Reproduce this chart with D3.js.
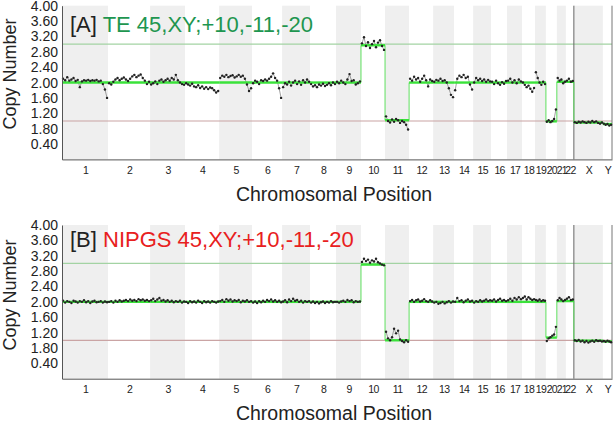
<!DOCTYPE html>
<html>
<head>
<meta charset="utf-8">
<script src="https://cdn.jsdelivr.net/npm/d3@7"></script>
<style>
  body { margin: 0; background: #fff; }
  svg { display: block; font-family: "Liberation Sans", Arial, sans-serif; }
</style>
</head>
<body>
<div id="chart"></div>
<script>
// chromosome names and display lengths (Mb, as laid out in the figure)
const chromNames = ['1','2','3','4','5','6','7','8','9','10','11','12','13','14','15','16','17','18','19','20','21','22','X','Y']
const chromSizes = [249, 227, 189, 184, 178, 162, 151, 140, 135, 130, 130, 130, 113, 103, 97, 86, 81, 70, 59, 59, 49, 43, 157, 49]

const yTickValues = [0.4, 0.8, 1.2, 1.6, 2.0, 2.4, 2.8, 3.2, 3.6, 4.0]
const yTickLabels = ['0.40', '1.80', '1.20', '1.60', '2.00', '2.40', '2.80', '3.20', '3.60', '4.00']

// segment calls per chromosome
const segA = [2, 2, 2, 2, 2, 2, 2, 2, 2, 2.97, 1.02, 2, 2, 2, 2, 2, 2, 2, 2, 0.99, 2.02, 2.02, 0.96, 0.92]
const segB = [2, 2, 2, 2, 2, 2, 2, 2, 2, 2.97, 1.0, 2, 2, 2, 2, 2, 2, 2, 2, 1.07, 2.02, 2.02, 0.99, 0.97]

// bin copy numbers per chromosome, panel A (TE)
const binsA = [
  [2.1, 2.06, 2.14, 2.05, 2.08, 2.12, 2.04, 2.07, 1.88, 2.03, 2.06, 2.05, 2.07, 2.04, 2.06, 2.05, 2.07, 2.03, 2.05, 1.96, 1.82, 1.6],
  [1.98, 1.95, 2.02, 2.08, 2.12, 2.06, 2.1, 2.13, 2.08, 2.04, 2.1, 2.16, 2.2, 2.14, 2.18, 2.21, 2.12, 2.05, 1.96, 2.02],
  [1.95, 1.98, 2.03, 1.96, 2.05, 2.08, 2.02, 2.06, 2.1, 2.05, 2.12, 2.08, 2.2, 2.06, 2.0, 1.96, 1.94],
  [1.98, 1.95, 1.92, 1.97, 1.9, 1.88, 1.93, 1.86, 1.9, 1.84, 1.88, 1.83, 1.87, 1.85, 1.8, 1.74, 1.78],
  [2.12, 2.18, 2.15, 2.2, 2.14, 2.17, 2.19, 2.13, 2.16, 2.2, 2.15, 2.18, 2.1, 1.95, 1.78, 1.85],
  [1.98, 2.05, 2.02, 1.96, 2.06, 2.04, 2.08, 2.05, 2.1, 2.15, 2.24, 2.12, 2.05, 1.85, 1.6],
  [1.88, 1.98, 1.95, 2.02, 1.92, 2.0, 2.05, 1.96, 2.03, 1.94, 2.06, 2.0, 2.08, 2.02],
  [1.96, 1.9, 1.93, 1.88, 1.95, 1.92, 1.97, 1.91, 1.94, 1.98, 1.93, 2.0, 1.96],
  [2.02, 1.98, 2.05, 2.0, 1.96, 2.08, 2.22, 2.04, 2.06, 1.95, 1.98, 2.03],
  [3.02, 3.18, 2.95, 3.05, 2.9, 3.0, 3.08, 2.92, 3.04, 3.1, 2.95, 2.85],
  [1.12, 1.0, 0.96, 1.04, 0.98, 1.05, 1.02, 0.95, 1.0, 0.97, 0.9, 0.78],
  [2.1, 2.05, 2.15, 2.08, 2.12, 2.02, 2.1, 2.18, 2.06, 1.9, 2.08, 2.04],
  [2.02, 2.07, 2.05, 2.1, 2.04, 2.06, 2.0, 1.85, 1.68, 1.62],
  [1.8, 2.1, 2.18, 2.14, 2.2, 2.12, 2.15, 1.95, 1.82],
  [2.0, 2.12, 2.06, 2.1, 2.04, 2.08, 2.02, 2.07, 2.03],
  [2.02, 1.96, 2.05, 1.98, 1.94, 2.01, 1.97, 2.04],
  [2.05, 2.1, 2.0, 2.06, 1.98, 2.08, 2.03],
  [2.0, 1.94, 1.88, 1.92, 1.84, 1.76, 1.86],
  [2.27, 2.12, 2.0, 1.94, 2.02, 1.96],
  [0.98, 1.02, 0.97, 1.0, 1.05, 1.3],
  [2.12, 2.05, 2.08, 1.98, 2.02],
  [2.05, 2.1, 2.02, 2.04],
  [0.97, 0.95, 0.98, 0.96, 0.99, 0.97, 0.95, 0.98, 0.96, 1.0, 0.97, 0.99, 0.95, 0.93, 0.96],
  [0.93, 0.9, 0.92, 0.88, 0.9]
]

// bin copy numbers per chromosome, panel B (NIPGS)
const binsB = [
  [2.03, 1.98, 2.02, 2.0, 1.97, 2.03, 2.01, 1.98, 2.02, 2.0, 2.04, 1.99, 2.02, 1.97, 2.01, 2.03, 1.99, 2.0, 2.02, 1.98, 2.01, 1.99],
  [2.0, 2.02, 1.98, 2.03, 2.0, 2.04, 2.01, 2.03, 2.05, 2.02, 2.06, 2.03, 2.05, 2.02, 2.07, 2.04, 2.06, 2.03, 2.05, 2.02],
  [2.04, 2.08, 2.02, 2.06, 2.1, 2.03, 2.05, 2.01, 2.04, 2.0, 2.03, 1.99, 2.02, 2.0, 2.03, 1.98, 2.01],
  [2.0, 1.97, 2.02, 1.99, 2.01, 1.98, 2.03, 2.0, 1.97, 2.02, 1.99, 2.01, 1.98, 2.02, 2.0, 1.98, 2.01],
  [2.02, 2.05, 2.0, 2.07, 2.03, 2.06, 2.01, 2.04, 2.02, 2.05, 1.99, 2.03, 2.01, 2.04, 2.0, 2.02],
  [1.98, 2.01, 1.97, 2.02, 1.99, 2.03, 2.0, 2.05, 2.02, 2.06, 2.01, 2.04, 2.0, 2.03, 1.99],
  [2.01, 2.04, 1.99, 2.06, 2.02, 2.08, 2.03, 2.05, 2.0, 2.03, 1.98, 2.02, 2.0, 2.02],
  [1.98, 2.01, 1.97, 2.0, 1.96, 1.99, 2.01, 1.97, 2.0, 1.98, 2.02, 1.99, 2.0],
  [2.0, 1.98, 2.01, 2.03, 2.0, 2.05, 2.02, 2.04, 1.99, 2.02, 2.0, 2.01],
  [3.04, 3.12, 3.06, 3.1, 3.02, 3.08, 3.05, 3.12, 3.03, 3.0, 2.97, 2.95],
  [1.22, 1.05, 1.0, 1.08, 1.3, 1.18, 1.25, 1.02, 0.98, 0.95, 1.0, 0.96],
  [2.02, 2.05, 2.0, 2.04, 2.06, 2.01, 2.03, 2.07, 2.02, 2.0, 2.04, 2.01],
  [1.98, 2.0, 1.95, 1.97, 2.0, 1.96, 1.99, 2.02, 1.98, 2.01],
  [2.0, 2.1, 2.02, 2.04, 1.99, 2.03, 2.06, 2.01, 2.03],
  [1.98, 2.02, 2.0, 2.04, 2.01, 2.03, 2.06, 2.02, 2.04],
  [2.03, 2.06, 2.01, 2.05, 2.08, 2.03, 2.05, 2.02],
  [2.04, 2.08, 2.03, 2.1, 2.06, 2.12, 2.07],
  [2.1, 2.14, 2.06, 2.12, 2.08, 2.05, 2.07],
  [2.05, 2.03, 2.06, 2.02, 2.04, 2.03],
  [0.98, 1.05, 1.08, 1.12, 1.15, 1.35],
  [2.04, 2.1, 2.06, 2.02, 2.05],
  [2.08, 2.12, 2.05, 2.06],
  [1.0, 0.98, 1.01, 0.97, 0.99, 0.95, 0.98, 0.94, 0.97, 0.99, 0.96, 1.0, 0.98, 0.99, 0.97],
  [0.98, 0.96, 0.99, 0.97, 0.95]
]

const width = 615
const height = 423
const left = 62
const right = 612

const svg = d3.select('#chart').append('svg')
  .attr('width', width)
  .attr('height', height)

// cumulative chromosome starts
const starts = []
let acc = 0
chromSizes.forEach(function (s) { starts.push(acc); acc += s })
const total = acc

const x = d3.scaleLinear().domain([0, total]).range([left, right])

function drawPanel (opts) {
  const y = d3.scaleLinear().domain([0, 4]).range([opts.bottom, opts.top])
  const g = svg.append('g')

  // alternating chromosome bands
  g.selectAll('.band')
    .data(chromSizes)
    .enter().append('rect')
    .attr('x', function (d, i) { return x(starts[i]) })
    .attr('y', y(4))
    .attr('width', function (d, i) { return x(starts[i] + d) - x(starts[i]) })
    .attr('height', y(0) - y(4))
    .attr('fill', function (d, i) { return i % 2 === 0 ? '#efefef' : '#ffffff' })

  // reference lines
  g.append('line')
    .attr('x1', left).attr('x2', right)
    .attr('y1', y(3)).attr('y2', y(3))
    .attr('stroke', '#a3d3a3').attr('stroke-width', 1.2)
  g.append('line')
    .attr('x1', left).attr('x2', right)
    .attr('y1', y(1)).attr('y2', y(1))
    .attr('stroke', '#caa4a4').attr('stroke-width', 1.2)

  // X / autosome divider and right border
  g.append('line')
    .attr('x1', x(starts[22])).attr('x2', x(starts[22]))
    .attr('y1', y(4)).attr('y2', y(0))
    .attr('stroke', '#666').attr('stroke-width', 1)
  g.append('line')
    .attr('x1', right).attr('x2', right)
    .attr('y1', y(4)).attr('y2', y(0))
    .attr('stroke', '#777').attr('stroke-width', 1)

  // bins
  const pts = []
  opts.bins.forEach(function (arr, c) {
    arr.forEach(function (v, i) {
      pts.push({ c: c, pos: starts[c] + (i + 0.5) / arr.length * chromSizes[c], v: v })
    })
  })
  const line = d3.line().x(function (d) { return x(d.pos) }).y(function (d) { return y(d.v) })
  g.selectAll('.trace')
    .data(d3.groups(pts, function (d) { return d.c }))
    .enter().append('path')
    .attr('d', function (d) { return line(d[1]) })
    .attr('fill', 'none')
    .attr('stroke', '#777')
    .attr('stroke-width', 0.7)

  // segment calls
  const seg = opts.seg
  g.selectAll('.seg-v')
    .data(seg.slice(1))
    .enter().append('line')
    .attr('x1', function (d, i) { return x(starts[i + 1]) })
    .attr('x2', function (d, i) { return x(starts[i + 1]) })
    .attr('y1', function (d, i) { return y(seg[i]) })
    .attr('y2', function (d) { return y(d) })
    .attr('stroke', '#5ee05e')
    .attr('stroke-width', 1)
  g.selectAll('.seg-h')
    .data(seg)
    .enter().append('line')
    .attr('x1', function (d, i) { return x(starts[i]) })
    .attr('x2', function (d, i) { return x(starts[i] + chromSizes[i]) })
    .attr('y1', function (d) { return y(d) })
    .attr('y2', function (d) { return y(d) })
    .attr('stroke', '#3ae23a')
    .attr('stroke-width', 2.4)

  g.selectAll('.pt')
    .data(pts)
    .enter().append('circle')
    .attr('cx', function (d) { return x(d.pos) })
    .attr('cy', function (d) { return y(d.v) })
    .attr('r', 1.2)
    .attr('fill', '#222')

  // axes
  const yAxis = d3.axisLeft(y)
    .tickValues(yTickValues)
    .tickFormat(function (d, i) { return yTickLabels[i] })
    .tickSize(0)
    .tickPadding(4)
  const ya = g.append('g').attr('transform', 'translate(' + left + ',0)').call(yAxis)
  ya.select('.domain').attr('stroke', '#555')
  ya.selectAll('text').attr('font-size', 14).attr('fill', '#222').attr('font-family', '"Liberation Sans", Arial, sans-serif')

  const xAxis = d3.axisBottom(x)
    .tickValues(starts.map(function (s, i) { return s + chromSizes[i] / 2 }))
    .tickFormat(function (d, i) { return chromNames[i] })
    .tickSize(0)
    .tickPadding(7)
  const xa = g.append('g').attr('transform', 'translate(0,' + y(0) + ')').call(xAxis)
  xa.select('.domain').attr('stroke', '#555')
  xa.selectAll('text')
    .attr('font-size', 10.5)
    .attr('letter-spacing', -0.7)
    .attr('fill', '#222')
    .attr('font-family', '"Liberation Sans", Arial, sans-serif')

  // titles
  const title = g.append('text')
    .attr('x', 70)
    .attr('y', opts.titleY)
    .attr('font-size', 22)
  title.append('tspan').attr('fill', '#222').text(opts.tag + ' ')
  title.append('tspan').attr('fill', opts.titleColor).text(opts.title)

  g.append('text')
    .attr('transform', 'translate(16,' + opts.ylabelY + ') rotate(-90)')
    .attr('text-anchor', 'middle')
    .attr('font-size', 18)
    .attr('fill', '#222')
    .text('Copy Number')

  g.append('text')
    .attr('x', 334)
    .attr('y', opts.xlabelY)
    .attr('text-anchor', 'middle')
    .attr('font-size', 19.5)
    .attr('fill', '#222')
    .text('Chromosomal Position')
}

drawPanel({
  top: 5.7, bottom: 159.4, bins: binsA, seg: segA,
  tag: '[A]', title: 'TE 45,XY;+10,-11,-20', titleColor: '#1e9650',
  titleY: 32, ylabelY: 74, xlabelY: 201
})

drawPanel({
  top: 225, bottom: 378.7, bins: binsB, seg: segB,
  tag: '[B]', title: 'NIPGS 45,XY;+10,-11,-20', titleColor: '#e82020',
  titleY: 247, ylabelY: 295, xlabelY: 420
})
</script>
</body>
</html>
